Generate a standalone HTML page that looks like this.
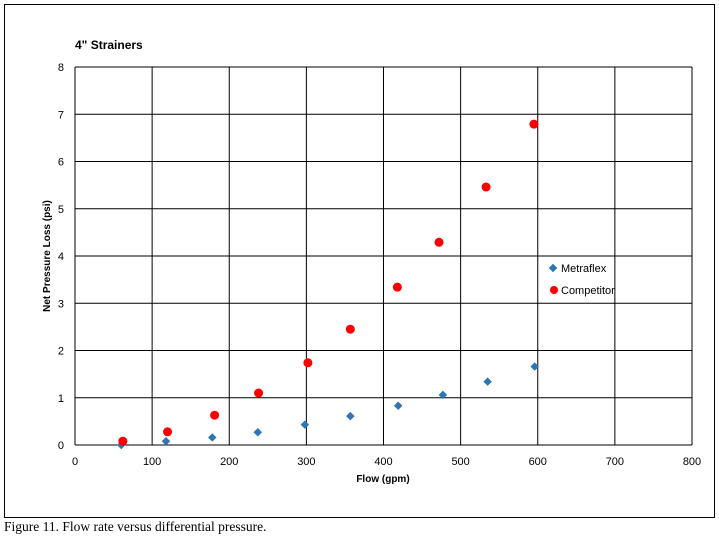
<!DOCTYPE html>
<html><head><meta charset="utf-8"><style>
body{margin:0;background:#fff;width:719px;height:536px;overflow:hidden}
svg text{font-family:"Liberation Sans",sans-serif}
</style></head><body>
<svg width="719" height="536">
<rect x="4.5" y="4.5" width="710" height="513" fill="#fff" stroke="#000"/>
<text x="75" y="49" font-size="12" font-weight="bold">4" Strainers</text>
<g id="grid"></g><g id="ticks"></g><g id="marks"></g>
<text x="383" y="482" font-size="10" font-weight="bold" text-anchor="middle">Flow (gpm)</text>
<text transform="translate(50,256) rotate(-90)" font-size="10" font-weight="bold" text-anchor="middle">Net Pressure Loss (psi)</text>
<g>
<rect x="550" y="265" width="6" height="6" fill="#2e75b6" transform="rotate(45 553 268)"/>
<text x="561" y="272" font-size="11">Metraflex</text>
<circle cx="554" cy="290" r="4" fill="#ff0000"/>
<text x="561" y="294" font-size="11">Competitor</text>
</g>
<text x="4" y="531" font-size="13.5" style="font-family:'Liberation Serif',serif">Figure 11.  Flow rate versus differential pressure.</text>
</svg>
<script>
const xTicks=[0,100,200,300,400,500,600,700,800];
const yTicks=[0,1,2,3,4,5,6,7,8];
const metraX=[60,118,178,237,298,357,419,477,535,596];
const metraY=[0.0,0.08,0.16,0.27,0.43,0.61,0.83,1.06,1.34,1.66];
const compX=[62,120,181,238,302,357,418,472,533,595];
const compY=[0.08,0.28,0.63,1.1,1.74,2.45,3.34,4.29,5.46,6.79];
const X0=75,X1=692,Y0=445,Y1=67;
const sx=v=>X0+(v-0)/800*(X1-X0);
const sy=v=>Y0-(v-0)/8*(Y0-Y1);
const NS="http://www.w3.org/2000/svg";
const grid=document.getElementById('grid'),ticks=document.getElementById('ticks'),marks=document.getElementById('marks');
function mk(tag,attrs,parent){const e=document.createElementNS(NS,tag);for(const k in attrs)e.setAttribute(k,attrs[k]);parent.appendChild(e);return e;}
xTicks.forEach(t=>{
  const l=mk('line',{x1:sx(t),x2:sx(t),y1:Y1,y2:Y0,stroke:'#000','stroke-width':1},grid);
  
  
  const tx=mk('text',{x:sx(t),y:Y0+20,'font-size':11,'text-anchor':'middle'},ticks);
  tx.textContent=t;
  
  
});
yTicks.forEach(t=>{
  const l=mk('line',{x1:X0,x2:X1,y1:sy(t),y2:sy(t),stroke:'#000','stroke-width':1},grid);
  
  
  const tx=mk('text',{x:X0-11,y:sy(t)+4,'font-size':11,'text-anchor':'end'},ticks);
  tx.textContent=t;
  
  
});
metraX.forEach((v,i)=>{
  const x=sx(v),y=sy(metraY[i]);
  const r=mk('rect',{x:x-3,y:y-3,width:6,height:6,fill:'#2e75b6',transform:`rotate(45 ${x} ${y})`},marks);
  
  
});
compX.forEach((v,i)=>{
  const c=mk('circle',{cx:sx(v),cy:sy(compY[i]),r:4.5,fill:'#ff0000'},marks);
  
  
});
</script>
</body></html>
